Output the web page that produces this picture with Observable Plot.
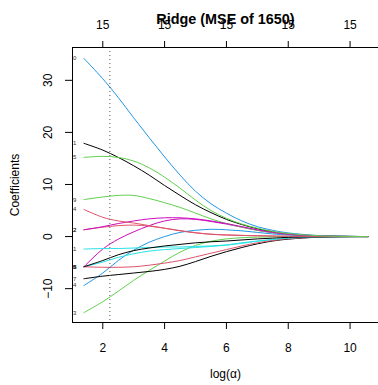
<!DOCTYPE html>
<html><head><meta charset="utf-8">
<script src="https://cdn.jsdelivr.net/npm/d3@7"></script>
<script src="https://cdn.jsdelivr.net/npm/@observablehq/plot@0.6"></script>
<style>body{margin:0;background:#fff} svg{display:block;font-family:"Liberation Sans",Arial,sans-serif}</style>
</head><body><div id="chart"></div>
<script>
const logLambda = [1.39, 2, 2.5, 3, 3.5, 4, 4.5, 5, 5.5, 6, 6.5, 7, 7.5, 8, 9, 10.58];
const b1  = [17.9,16.6,15.2,13.6,11.8,9.8,7.9,6.1,4.6,3.3,2.3,1.5,0.9,0.5,0.15,0];
const b2  = [1.3,1.8,2.1,2.2,2.0,1.6,1.15,0.75,0.45,0.3,0.22,0.15,0.1,0.05,0.02,0];
const b3  = [-14.6,-12.5,-10.5,-8.4,-6.5,-4.7,-3.0,-1.7,-0.9,-0.45,-0.22,-0.1,-0.05,-0.02,0,0];
const b4  = [-9.4,-7.0,-4.6,-2.6,-1.1,0.0,0.8,1.2,1.4,1.3,1.1,0.8,0.5,0.3,0.08,0];
const b5  = [-5.8,-4.9,-4.0,-3.3,-2.8,-2.5,-2.3,-2.1,-1.9,-1.65,-1.3,-0.9,-0.6,-0.33,-0.08,0];
const b6  = [-5.8,-2.4,-0.5,0.9,2.1,3.0,3.4,3.3,2.9,2.4,1.8,1.2,0.75,0.42,0.1,0];
const b7  = [-8.1,-7.6,-7.3,-7.0,-6.7,-6.3,-5.7,-4.8,-3.8,-2.9,-2.1,-1.4,-0.85,-0.5,-0.12,0];
const b8  = [-5.8,-5.9,-5.9,-5.8,-5.5,-5.1,-4.6,-3.9,-3.2,-2.5,-1.8,-1.2,-0.75,-0.42,-0.1,0];
const b9  = [7.1,7.6,7.9,7.9,7.3,6.5,5.6,4.5,3.4,2.5,1.8,1.2,0.75,0.45,0.12,0];
const b10 = [34.2,30.3,26.7,22.8,19.0,15.3,11.8,8.7,6.3,4.5,3.0,1.9,1.2,0.7,0.2,0];
const b11 = [-2.4,-2.3,-2.3,-2.2,-2.1,-2.0,-2.0,-1.9,-1.8,-1.6,-1.2,-0.85,-0.55,-0.3,-0.08,0];
const b12 = [1.3,1.9,2.5,3.0,3.4,3.6,3.6,3.4,3.0,2.5,1.9,1.3,0.8,0.45,0.12,0];
const b13 = [-5.8,-4.6,-3.5,-2.7,-2.2,-1.8,-1.5,-1.2,-1.0,-0.85,-0.65,-0.45,-0.3,-0.15,-0.05,0];
const b14 = [5.2,3.7,3.0,2.6,2.1,1.6,1.1,0.7,0.45,0.3,0.22,0.15,0.1,0.05,0.02,0];
const b15 = [15.2,15.4,15.2,14.5,13.2,11.4,9.3,7.0,5.0,3.5,2.4,1.6,1.0,0.6,0.15,0];
const coefs = [b1,b2,b3,b4,b5,b6,b7,b8,b9,b10,b11,b12,b13,b14,b15];
const coefLabels = ["1","2","3","4","5","6","7","8","9","10","11","12","13","14","15"];
const palette = ["#000000","#DF536B","#61D04F","#2297E6","#28E2E5","#CD0BBC"];
const xTicks = [2,4,6,8,10];
const xTickLabels = ["2","4","6","8","10"];
const topTickLabels = ["15","15","15","15","15"];
const yTicks = [-10,0,10,20,30];
const yTickLabels = ["\u221210","0","10","20","30"];
const selectedLogLambda = [2.23];
const title = "Ridge (MSE of 1650)";
const xLabel = "log(\u03b1)";
const yLabel = "Coefficients";

const xDomain = [1.02, 10.92];
const yDomain = [-16.5, 36.3];

const starts = coefs.map((arr, i) => ({x: logLambda[0], y: arr[0], label: coefLabels[i]}));

const lineMarks = coefs.map((arr, i) =>
  Plot.line(logLambda, {x: d => d, y: (d, j) => arr[j], stroke: palette[i % 6], strokeWidth: 1, curve: "catmull-rom", clip: true})
);

const chart = Plot.plot({
  width: 378, height: 385,
  marginLeft: 72, marginRight: 0, marginTop: 47, marginBottom: 63,
  x: {domain: xDomain},
  y: {domain: yDomain},
  style: {fontFamily: '"Liberation Sans", Arial, sans-serif', fontSize: "12px", color: "black", background: "white"},
  marks: [
    ...lineMarks,
    Plot.ruleX(selectedLogLambda, {stroke: "#555", strokeDasharray: "1,3", strokeWidth: 1}),
    Plot.text(starts, {x: "x", y: "y", text: "label", textAnchor: "end", dx: -7.5, fontSize: 6, lineAnchor: "middle", clip: true, fill: "#333"}),
    Plot.ruleY([yDomain[1], yDomain[0]], {stroke: "black"}),
    Plot.ruleX([xDomain[0]], {stroke: "black"}),
    Plot.axisX(xTicks, {anchor: "bottom", tickSize: 7, tickPadding: 14, fontSize: 12, label: null,
      tickFormat: d => xTickLabels[xTicks.indexOf(d)]}),
    Plot.axisX(xTicks, {anchor: "top", tickSize: 7, tickPadding: 11.5, fontSize: 12, label: null,
      tickFormat: d => topTickLabels[xTicks.indexOf(d)]}),
    Plot.axisY(yTicks, {anchor: "left", tickSize: 7, label: null, tickFormat: () => ""}),
    Plot.text(yTicks, {y: d => d, text: d => yTickLabels[yTicks.indexOf(d)], frameAnchor: "left", dx: -24, rotate: -90, fontSize: 12, textAnchor: "middle", lineAnchor: "middle"}),
    Plot.text([yLabel], {frameAnchor: "left", dx: -57, rotate: -90, fontSize: 12, textAnchor: "middle", lineAnchor: "middle"}),
    Plot.text([xLabel], {frameAnchor: "bottom", dy: 55, fontSize: 12, lineAnchor: "bottom"}),
    Plot.text([title], {frameAnchor: "top", dy: -24, fontSize: 14.4, fontWeight: "bold", lineAnchor: "bottom"})
  ]
});
document.getElementById("chart").appendChild(chart);
</script>
</body></html>
